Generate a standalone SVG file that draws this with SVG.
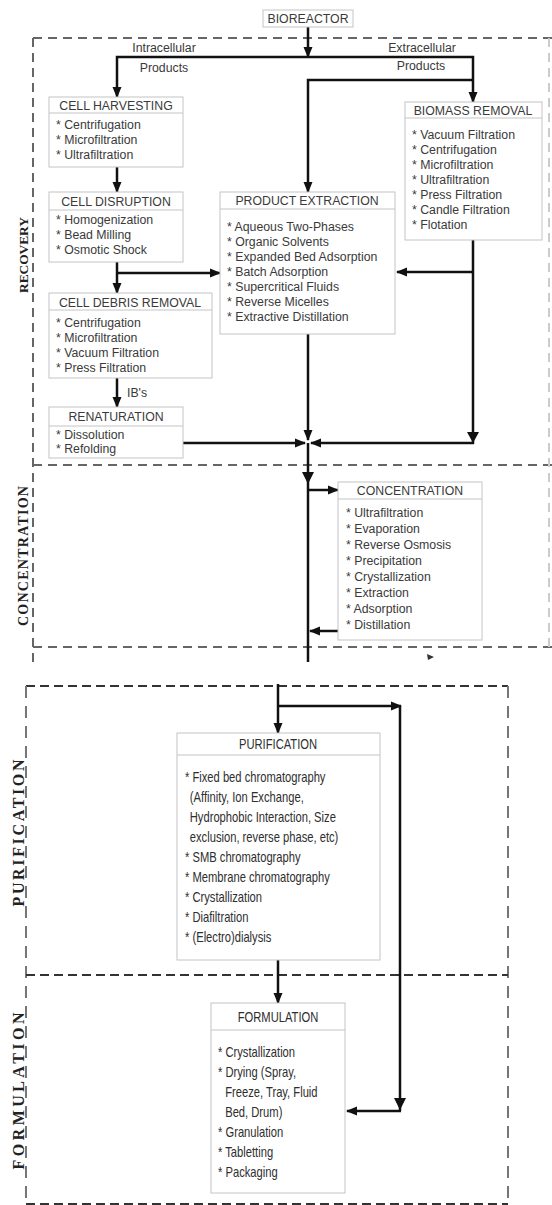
<svg xmlns="http://www.w3.org/2000/svg" width="552" height="1205" viewBox="0 0 552 1205">
<defs>
<marker id="ah" markerWidth="11" markerHeight="10" refX="10" refY="5" orient="auto" markerUnits="userSpaceOnUse">
<path d="M0,0.5 L11,5 L0,9.5 z" fill="#111"/>
</marker>
<style>
.box{fill:#fff;stroke:#c4c4c4;stroke-width:1}
.sep{stroke:#c4c4c4;stroke-width:1}
.t{font-family:"Liberation Sans",Arial,sans-serif;font-size:12.3px;fill:#3a3a3a}
.tt{font-family:"Liberation Sans",Arial,sans-serif;font-size:12.3px;fill:#3a3a3a;text-anchor:middle}
.n{font-family:"Liberation Sans",Arial,sans-serif;font-size:14px;fill:#2e2e2e}
.nt{font-family:"Liberation Sans",Arial,sans-serif;font-size:14px;fill:#2e2e2e;text-anchor:middle}
.lab{font-family:"Liberation Serif","Times New Roman",serif;font-weight:bold;fill:#222;text-anchor:middle}
.c{fill:none;stroke:#111;stroke-width:2.5}
.ca{fill:none;stroke:#111;stroke-width:2.5;marker-end:url(#ah)}
.d1{fill:none;stroke:#666;stroke-width:2;stroke-dasharray:9 6}
.d2{fill:none;stroke:#333;stroke-width:2;stroke-dasharray:9 5}
.d3{fill:none;stroke:#777;stroke-width:2;stroke-dasharray:12 8}
</style>
</defs>
<rect width="552" height="1205" fill="#fff"/>

<g id="regions">
<path class="d1" d="M33,38 H552"/>
<path class="d1" d="M33,38 V662"/>
<path class="d1" d="M33,465 H552"/>
<path class="d1" d="M33,647 H552"/>
<path class="d1" d="M549,38 V647" style="stroke:#ccc"/>
<path class="d2" d="M26,686 H508"/>
<path class="d3" d="M26,686 V1205"/>
<path class="d3" d="M508,686 V1200"/>
<path class="d2" d="M26,975 H508"/>
<path class="d2" d="M26,1204 H508"/>
<text class="lab" font-size="13.5" textLength="76" transform="translate(28,255) rotate(-90)">RECOVERY</text>
<text class="lab" font-size="14" textLength="140" transform="translate(28,556) rotate(-90)">CONCENTRATION</text>
<text class="lab" font-size="16" textLength="147" transform="translate(24,833) rotate(-90)">PURIFICATION</text>
<text class="lab" font-size="16" textLength="157" transform="translate(24,1091) rotate(-90)">FORMULATION</text>
</g>

<g id="connectors">
<path class="ca" d="M308,27 V57"/>
<path class="ca" d="M308,57 H117 V97"/>
<path class="ca" d="M308,57 H473 V102"/>
<path class="ca" d="M473,80 H308 V192"/>
<path class="ca" d="M117,167 V192"/>
<path class="ca" d="M117,262 V293"/>
<path class="ca" d="M117,273 H220"/>
<path class="ca" d="M117,378 V407"/>
<path class="ca" d="M183,443 H305"/>
<path class="ca" d="M308,334 V440"/>
<path class="ca" d="M473,240 V443 H311"/>
<polygon points="467,432 479,432 473,443" fill="#111"/>
<path class="ca" d="M473,272 H397"/>
<path class="c" d="M308,443 V662"/>
<polygon points="302,472 314,472 308,484" fill="#111"/>
<path class="ca" d="M308,490 H338"/>
<path class="ca" d="M338,631 H310"/>
<polygon points="427,654 434,657 428,660" fill="#333"/>
<path class="ca" d="M278,684 V733"/>
<path class="ca" d="M278,706 H401"/>
<path class="c" d="M400,706 V1111"/>
<path class="ca" d="M401,1111 H347"/>
<polygon points="394,1098 406,1098 400,1110" fill="#111"/>
<path class="ca" d="M278,960 V1003"/>
<text class="t" x="127" y="397">IB's</text>
<text class="tt" x="164" y="52">Intracellular</text>
<text class="tt" x="164" y="72">Products</text>
<text class="tt" x="422" y="52">Extracellular</text>
<text class="tt" x="421" y="70">Products</text>
</g>

<g id="bioreactor">
<rect class="box" x="263" y="10" width="90" height="17"/>
<text class="tt" x="308" y="22.5">BIOREACTOR</text>
</g>

<g id="cell-harvesting">
<rect class="box" x="49" y="97" width="134" height="70"/>
<line class="sep" x1="49" y1="113" x2="183" y2="113"/>
<text class="tt" x="116" y="109.5">CELL HARVESTING</text>
<text class="t" x="56" y="129">* Centrifugation</text>
<text class="t" x="56" y="144">* Microfiltration</text>
<text class="t" x="56" y="159">* Ultrafiltration</text>
</g>

<g id="cell-disruption">
<rect class="box" x="49" y="192" width="134" height="70"/>
<line class="sep" x1="49" y1="210" x2="183" y2="210"/>
<text class="tt" x="116" y="205.5">CELL DISRUPTION</text>
<text class="t" x="56" y="224">* Homogenization</text>
<text class="t" x="56" y="239">* Bead Milling</text>
<text class="t" x="56" y="254">* Osmotic Shock</text>
</g>

<g id="cell-debris-removal">
<rect class="box" x="49" y="293" width="163" height="85"/>
<line class="sep" x1="49" y1="310" x2="212" y2="310"/>
<text class="tt" x="130" y="306.5">CELL DEBRIS REMOVAL</text>
<text class="t" x="56" y="327">* Centrifugation</text>
<text class="t" x="56" y="342">* Microfiltration</text>
<text class="t" x="56" y="357">* Vacuum Filtration</text>
<text class="t" x="56" y="372">* Press Filtration</text>
</g>

<g id="renaturation">
<rect class="box" x="49" y="407" width="134" height="51"/>
<line class="sep" x1="49" y1="426" x2="183" y2="426"/>
<text class="tt" x="116" y="421">RENATURATION</text>
<text class="t" x="56" y="439">* Dissolution</text>
<text class="t" x="56" y="453">* Refolding</text>
</g>

<g id="product-extraction">
<rect class="box" x="220" y="192" width="175" height="142"/>
<line class="sep" x1="220" y1="209" x2="395" y2="209"/>
<text class="tt" x="307" y="204.5">PRODUCT EXTRACTION</text>
<text class="t" x="227" y="231">* Aqueous Two-Phases</text>
<text class="t" x="227" y="246">* Organic Solvents</text>
<text class="t" x="227" y="261">* Expanded Bed Adsorption</text>
<text class="t" x="227" y="276">* Batch Adsorption</text>
<text class="t" x="227" y="291">* Supercritical Fluids</text>
<text class="t" x="227" y="306">* Reverse Micelles</text>
<text class="t" x="227" y="321">* Extractive Distillation</text>
</g>

<g id="biomass-removal">
<rect class="box" x="405" y="102" width="137" height="138"/>
<line class="sep" x1="405" y1="118" x2="542" y2="118"/>
<text class="tt" x="473" y="115">BIOMASS REMOVAL</text>
<text class="t" x="412" y="139">* Vacuum Filtration</text>
<text class="t" x="412" y="154">* Centrifugation</text>
<text class="t" x="412" y="169">* Microfiltration</text>
<text class="t" x="412" y="184">* Ultrafiltration</text>
<text class="t" x="412" y="199">* Press Filtration</text>
<text class="t" x="412" y="214">* Candle Filtration</text>
<text class="t" x="412" y="229">* Flotation</text>
</g>

<g id="concentration">
<rect class="box" x="338" y="482" width="144" height="158"/>
<line class="sep" x1="338" y1="499" x2="482" y2="499"/>
<text class="tt" x="410" y="495">CONCENTRATION</text>
<text class="t" x="346" y="517">* Ultrafiltration</text>
<text class="t" x="346" y="533">* Evaporation</text>
<text class="t" x="346" y="549">* Reverse Osmosis</text>
<text class="t" x="346" y="565">* Precipitation</text>
<text class="t" x="346" y="581">* Crystallization</text>
<text class="t" x="346" y="597">* Extraction</text>
<text class="t" x="346" y="613">* Adsorption</text>
<text class="t" x="346" y="629">* Distillation</text>
</g>

<g id="purification">
<rect class="box" x="177" y="733" width="203" height="227"/>
<line class="sep" x1="177" y1="755" x2="380" y2="755"/>
<g transform="translate(278,0) scale(0.8,1)"><text class="nt" x="0" y="749">PURIFICATION</text></g>
<g transform="translate(185,0) scale(0.8,1)">
<text class="n" x="0" y="782">* Fixed bed chromatography</text>
<text class="n" x="6" y="802">(Affinity, Ion Exchange,</text>
<text class="n" x="6" y="822">Hydrophobic Interaction, Size</text>
<text class="n" x="6" y="842">exclusion, reverse phase, etc)</text>
<text class="n" x="0" y="862">* SMB chromatography</text>
<text class="n" x="0" y="882">* Membrane chromatography</text>
<text class="n" x="0" y="902">* Crystallization</text>
<text class="n" x="0" y="922">* Diafiltration</text>
<text class="n" x="0" y="942">* (Electro)dialysis</text>
</g>
</g>

<g id="formulation">
<rect class="box" x="211" y="1003" width="134" height="190"/>
<line class="sep" x1="211" y1="1030" x2="345" y2="1030"/>
<g transform="translate(278,0) scale(0.8,1)"><text class="nt" x="0" y="1022">FORMULATION</text></g>
<g transform="translate(218,0) scale(0.8,1)">
<text class="n" x="0" y="1057">* Crystallization</text>
<text class="n" x="0" y="1077">* Drying (Spray,</text>
<text class="n" x="9" y="1097">Freeze, Tray, Fluid</text>
<text class="n" x="9" y="1117">Bed, Drum)</text>
<text class="n" x="0" y="1137">* Granulation</text>
<text class="n" x="0" y="1157">* Tabletting</text>
<text class="n" x="0" y="1177">* Packaging</text>
</g>
</g>
</svg>
